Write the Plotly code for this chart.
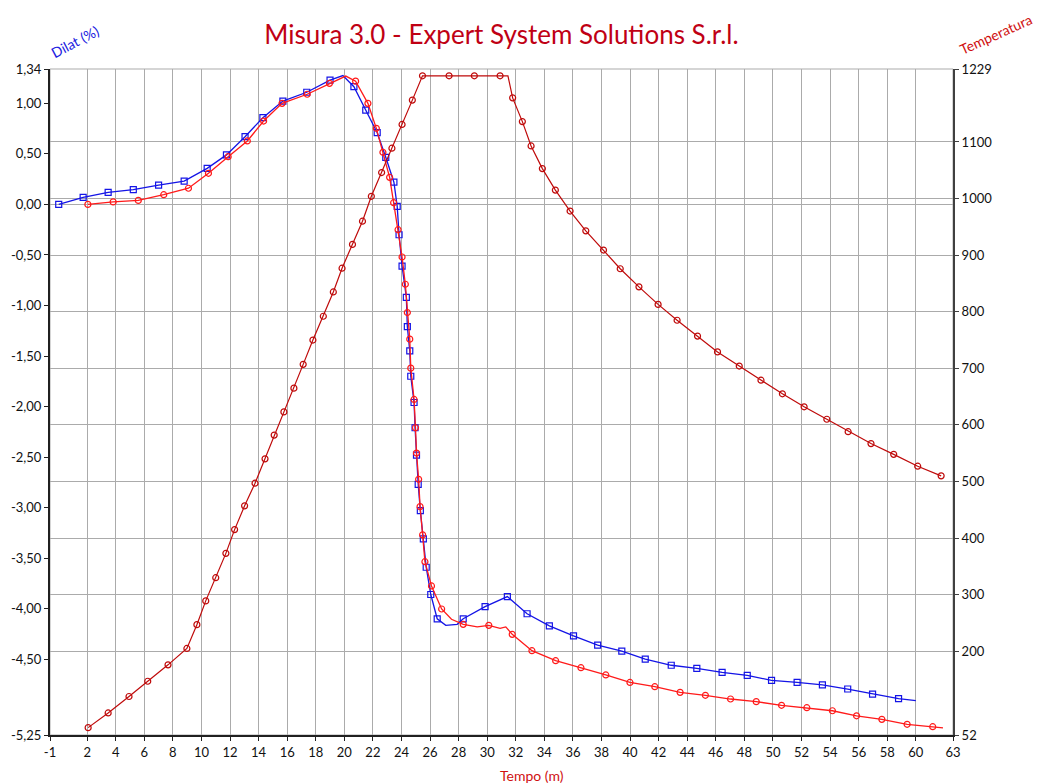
import plotly.graph_objects as go

# ---------------- data ----------------
# Blue dilatation curve (left axis, %)
blue_t = [0.01, 1.72, 3.47, 5.23, 7.0, 8.79, 10.4, 11.75, 13.05, 14.3, 15.7, 17.37, 19.0,
          20.67, 21.5, 22.3, 22.9, 23.47, 23.7, 23.83, 24.04, 24.34, 24.41, 24.58, 24.65,
          24.88, 24.95, 25.05, 25.17, 25.32, 25.53, 25.73, 26.05, 26.5, 28.32, 29.85, 31.41,
          32.79, 34.35, 36.04, 37.73, 39.42, 41.06, 42.88, 44.67, 46.44, 48.2, 49.9, 51.69,
          53.46, 55.23, 56.97, 58.79]
blue_v = [0.00, 0.07, 0.12, 0.146, 0.19, 0.23, 0.357, 0.49, 0.67, 0.858, 1.023, 1.11, 1.23,
          1.165, 0.934, 0.71, 0.466, 0.22, -0.02, -0.30, -0.61, -0.92, -1.21, -1.45, -1.70,
          -1.96, -2.21, -2.48, -2.77, -3.03, -3.31, -3.59, -3.86, -4.10, -4.10, -3.98, -3.88,
          -4.05, -4.17, -4.27, -4.36, -4.42, -4.50, -4.56, -4.59, -4.63, -4.66, -4.71, -4.73,
          -4.755, -4.795, -4.845, -4.89]
# extra line-only points (peak, trough, end)
blue_extra_t = [19.9, 27.1, 27.9, 60.0]
blue_extra_v = [1.275, -4.165, -4.155, -4.91]

# Red dilatation curve (left axis, %)
red_t = [2.05, 3.82, 5.58, 7.36, 9.09, 10.49, 11.87, 13.21, 14.35, 15.64, 17.4, 18.96,
         20.79, 21.65, 22.24, 22.7, 23.17, 23.45, 23.76, 24.04, 24.27, 24.41, 24.58, 24.65,
         24.88, 24.98, 25.05, 25.2, 25.3, 25.48, 25.64, 26.1, 26.81, 28.32, 30.11, 31.75,
         33.13, 34.79, 36.56, 38.3, 39.99, 41.73, 43.5, 45.27, 47.03, 48.83, 50.6, 52.37,
         54.16, 55.85, 57.62, 59.39, 61.18]
red_v = [0.00, 0.025, 0.04, 0.096, 0.16, 0.308, 0.472, 0.628, 0.825, 1.0, 1.09, 1.198,
         1.22, 1.0, 0.753, 0.516, 0.268, 0.017, -0.25, -0.52, -0.79, -1.07, -1.333, -1.62,
         -1.93, -2.21, -2.46, -2.72, -2.99, -3.27, -3.535, -3.775, -4.003, -4.155, -4.165, -4.254,
         -4.416, -4.515, -4.584, -4.656, -4.73, -4.772, -4.828, -4.857, -4.894, -4.92, -4.956, -4.98,
         -5.01, -5.06, -5.095, -5.144, -5.168]
red_extra_t = [20.1, 27.5, 29.3, 30.9, 31.3, 61.9]
red_extra_v = [1.27, -4.105, -4.18, -4.195, -4.18, -5.18]

# Temperature curve (right axis, °C)
temp_t = [2.07, 3.47, 4.93, 6.24, 7.66, 8.98, 9.68, 10.3, 11.0, 11.71, 12.32, 13.02, 13.75,
          14.45, 15.09, 15.77, 16.47, 17.12, 17.8, 18.53, 19.23, 19.84, 20.57, 21.27, 21.89,
          22.61, 23.33, 24.04, 24.76, 25.47, 27.33, 29.1, 30.9, 31.78, 32.46, 33.07, 33.86,
          34.77, 35.8, 36.9, 38.14, 39.31, 40.62, 41.96, 43.29, 44.72, 46.12, 47.64, 49.16,
          50.66, 52.18, 53.77, 55.26, 56.86, 58.45, 60.13, 61.77]
temp_v = [65, 91, 120, 147, 176, 205, 247, 289, 330, 373, 415, 457, 497,
          540, 582, 623, 665, 707, 750, 792, 835, 877, 919, 960, 1004,
          1046, 1089, 1131, 1174, 1217, 1217, 1217, 1217, 1178, 1136, 1093, 1053,
          1015, 978, 943, 909, 876, 844, 813, 785, 757, 729, 704, 679,
          655, 632, 610, 588, 567, 548, 527, 510]
temp_extra_t = [31.45]
temp_extra_v = [1217]

# Axis ticks
x_tick_vals = [-0.6] + list(range(2, 61, 2)) + [62.6]
x_tick_text = ["-1"] + [str(v) for v in range(2, 61, 2)] + ["63"]
yl_tick_vals = [1.34, 1.0, 0.5, 0.0, -0.5, -1.0, -1.5, -2.0, -2.5, -3.0, -3.5, -4.0, -4.5, -5.25]
yl_tick_text = ["1,34", "1,00", "0,50", "0,00", "-0,50", "-1,00", "-1,50", "-2,00", "-2,50",
                "-3,00", "-3,50", "-4,00", "-4,50", "-5,25"]
yr_tick_vals = [1229, 1100, 1000, 900, 800, 700, 600, 500, 400, 300, 200, 52]
yr_tick_text = [str(v) for v in yr_tick_vals]


def merged(t, v, et, ev):
    pts = sorted(list(zip(t, v)) + list(zip(et, ev)))
    return [p[0] for p in pts], [p[1] for p in pts]


BLUE = "#1414e6"
RED = "#ff1a1a"
DRED = "#bf0a0a"
GRID = "#ababab"
FONT = "Lato"

fig = go.Figure()

# temperature
lt, lv = merged(temp_t, temp_v, temp_extra_t, temp_extra_v)
fig.add_trace(go.Scatter(x=lt, y=lv, mode="lines", line=dict(color=DRED, width=1.2),
                         yaxis="y2", showlegend=False, hoverinfo="skip"))
fig.add_trace(go.Scatter(x=temp_t, y=temp_v, mode="markers", yaxis="y2", showlegend=False,
                         marker=dict(symbol="circle-open", size=6, color=DRED, line=dict(width=1.2))))

# blue dilatation
lt, lv = merged(blue_t, blue_v, blue_extra_t, blue_extra_v)
fig.add_trace(go.Scatter(x=lt, y=lv, mode="lines", line=dict(color=BLUE, width=1.3),
                         showlegend=False, hoverinfo="skip"))
fig.add_trace(go.Scatter(x=blue_t, y=blue_v, mode="markers", showlegend=False,
                         marker=dict(symbol="square-open", size=6, color=BLUE, line=dict(width=1.2))))

# red dilatation
lt, lv = merged(red_t, red_v, red_extra_t, red_extra_v)
fig.add_trace(go.Scatter(x=lt, y=lv, mode="lines", line=dict(color=RED, width=1.3),
                         showlegend=False, hoverinfo="skip"))
fig.add_trace(go.Scatter(x=red_t, y=red_v, mode="markers", showlegend=False,
                         marker=dict(symbol="circle-open", size=6, color=RED, line=dict(width=1.2))))

tickfont = dict(family=FONT, size=13, color="#111111")

fig.update_layout(
    width=1040, height=784,
    margin=dict(l=50, r=87, t=69, b=49),
    paper_bgcolor="white", plot_bgcolor="white",
    font=dict(family=FONT),
    xaxis=dict(range=[-0.6, 62.6], tickmode="array", tickvals=x_tick_vals, ticktext=x_tick_text,
               showgrid=True, gridcolor=GRID, gridwidth=1, zeroline=False,
               showline=True, linecolor="#202020", linewidth=2,
               ticks="outside", ticklen=4, tickcolor="#202020", tickfont=tickfont),
    yaxis=dict(range=[-5.25, 1.34], tickmode="array", tickvals=yl_tick_vals, ticktext=yl_tick_text,
               showgrid=False, zeroline=True, zerolinecolor=GRID, zerolinewidth=1,
               showline=True, linecolor="#202020", linewidth=2,
               ticks="outside", ticklen=4, tickcolor="#202020", tickfont=tickfont),
    yaxis2=dict(range=[52, 1229], overlaying="y", side="right", tickmode="array",
                tickvals=yr_tick_vals, ticktext=yr_tick_text,
                showgrid=True, gridcolor=GRID, gridwidth=1, zeroline=False,
                showline=True, linecolor="#404040", linewidth=2,
                ticks="outside", ticklen=4, tickcolor="#404040", tickfont=tickfont),
    title=dict(text="Misura 3.0 - Expert System Solutions S.r.l.", x=0.5, xref="paper",
               y=1 - 35 / 784, yref="container", yanchor="middle", xanchor="center",
               font=dict(family=FONT, size=26, color="#c00014")),
    shapes=[dict(type="rect", xref="paper", yref="paper", x0=0, x1=1, y0=0, y1=1,
                 line=dict(color=GRID, width=1), layer="below")],
    annotations=[
        dict(text="Dilat (%)", xref="paper", yref="paper", x=(75 - 50) / 903, y=(735 - 41) / 666,
             xanchor="center", yanchor="middle",
             showarrow=False, textangle=-28, font=dict(family=FONT, size=14, color="#2020e0")),
        dict(text="Temperatura", xref="paper", yref="paper", x=(995 - 50) / 903, y=(735 - 34) / 666,
             xanchor="center", yanchor="middle",
             showarrow=False, textangle=-24, font=dict(family=FONT, size=14, color="#d01010")),
        dict(text="Tempo (m)", xref="paper", yref="paper", x=(532 - 50) / 903, y=(735 - 775) / 666,
             xanchor="center", yanchor="middle",
             showarrow=False, font=dict(family=FONT, size=14, color="#d01010")),
    ],
)

fig.write_html("out.html")
